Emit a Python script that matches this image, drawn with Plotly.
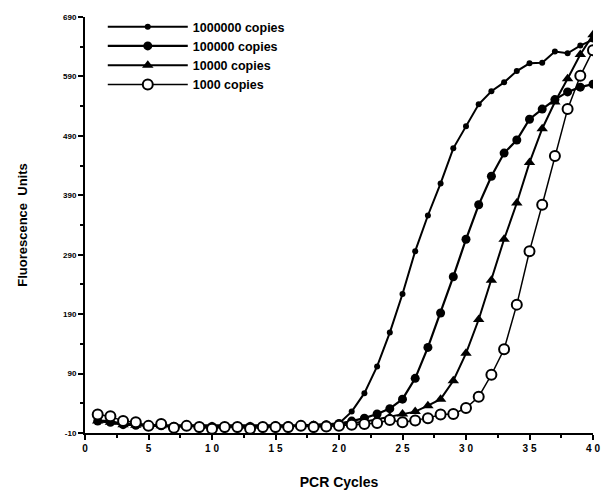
import plotly.graph_objects as go

cycles = list(range(1, 41))

copies_1e6 = [11, 10, 5, 5, 3, 3, 2, 3, 2, 2, 2, 2, 2, 2, 2, 3, 3, 4, 5, 6,
              26, 57, 102, 159, 224, 296, 356, 410, 469, 506,
              543, 565, 580, 599, 612, 613, 632, 629, 642, 652]
copies_1e5 = [10, 8, 4, 3, 2, 2, 1, 2, 1, 1, 1, 1, 1, 1, 2, 2, 2, 3, 4, 6,
              10, 15, 22, 31, 47, 82, 134, 192, 253, 316,
              374, 422, 461, 483, 518, 535, 551, 564, 572, 577]
copies_1e4 = [10, 8, 4, 3, 2, 2, 1, 2, 1, 1, 1, 1, 1, 1, 2, 2, 2, 3, 3, 4,
              7, 9, 13, 17, 22, 26, 36, 47, 78, 124,
              181, 247, 316, 377, 445, 502, 547, 586, 627, 660]
copies_1e3 = [21, 18, 10, 8, 2, 5, -1, 2, 0, -3, 0, 0, -3, 0, 0, 0, 2, 0, 1, 2,
              4, 5, 7, 12, 8, 11, 15, 21, 22, 32,
              51, 88, 131, 206, 296, 374, 456, 535, 591, 634]

series_names = ["1000000 copies", "100000 copies", "10000 copies", "1000 copies"]

x_tickvals = [0, 5, 10, 15, 20, 25, 30, 35, 40]
x_ticktext = ["0", "5", "1 0", "1 5", "2 0", "2 5", "3 0", "3 5", "4 0"]
y_tickvals = [-10, 90, 190, 290, 390, 490, 590, 690]
y_ticktext = ["-10", "90", "190", "290", "390", "490", "590", "690"]

FONT = "Liberation Sans"
fig = go.Figure()

fig.add_trace(go.Scatter(
    x=cycles, y=copies_1e6, name=series_names[0], mode="lines+markers",
    line=dict(color="black", width=2),
    marker=dict(symbol="circle", size=6, color="black")))
fig.add_trace(go.Scatter(
    x=cycles, y=copies_1e5, name=series_names[1], mode="lines+markers",
    line=dict(color="black", width=2.2),
    marker=dict(symbol="circle", size=9, color="black")))
fig.add_trace(go.Scatter(
    x=cycles, y=copies_1e4, name=series_names[2], mode="lines+markers",
    line=dict(color="black", width=2),
    marker=dict(symbol="triangle-up", size=10, color="black")))
fig.add_trace(go.Scatter(
    x=cycles, y=copies_1e3, name=series_names[3], mode="lines+markers",
    line=dict(color="black", width=1.5),
    marker=dict(symbol="circle", size=10, color="white",
                line=dict(color="black", width=2))))

fig.update_layout(
    width=612, height=500,
    margin=dict(l=85, r=14, t=12, b=64),
    paper_bgcolor="white", plot_bgcolor="white",
    font=dict(family=FONT, color="black", weight="bold"),
    showlegend=True,
    legend=dict(x=0.035, y=1.012, xanchor="left", yanchor="top",
                bgcolor="rgba(0,0,0,0)", itemwidth=80,
                font=dict(family=FONT, size=12.5, color="black", weight="bold"),
                tracegroupgap=0),
)

fig.update_xaxes(
    range=[0, 40], tickvals=x_tickvals, ticktext=x_ticktext,
    showline=True, linecolor="black", linewidth=2,
    ticks="outside", ticklen=5, tickwidth=2, tickcolor="black",
    minor=dict(dtick=2.5, tick0=0, ticks="outside", ticklen=3, tickwidth=1.5, tickcolor="black"),
    showgrid=False, zeroline=False,
    tickfont=dict(family=FONT, size=10, weight="bold"),
    title=dict(text="PCR Cycles", font=dict(family=FONT, size=14, weight="bold"), standoff=24),
)
fig.update_yaxes(
    range=[-10, 690], tickvals=y_tickvals, ticktext=y_ticktext,
    showline=True, linecolor="black", linewidth=2,
    ticks="outside", ticklen=5, tickwidth=2, tickcolor="black",
    minor=dict(dtick=50, tick0=-10, ticks="outside", ticklen=3, tickwidth=1.5, tickcolor="black"),
    showgrid=False, zeroline=False,
    tickfont=dict(family=FONT, size=8, weight="bold"),
    title=dict(text="Fluorescence  Units", font=dict(family=FONT, size=13, weight="bold"), standoff=32),
)

fig.write_html("out.html")
